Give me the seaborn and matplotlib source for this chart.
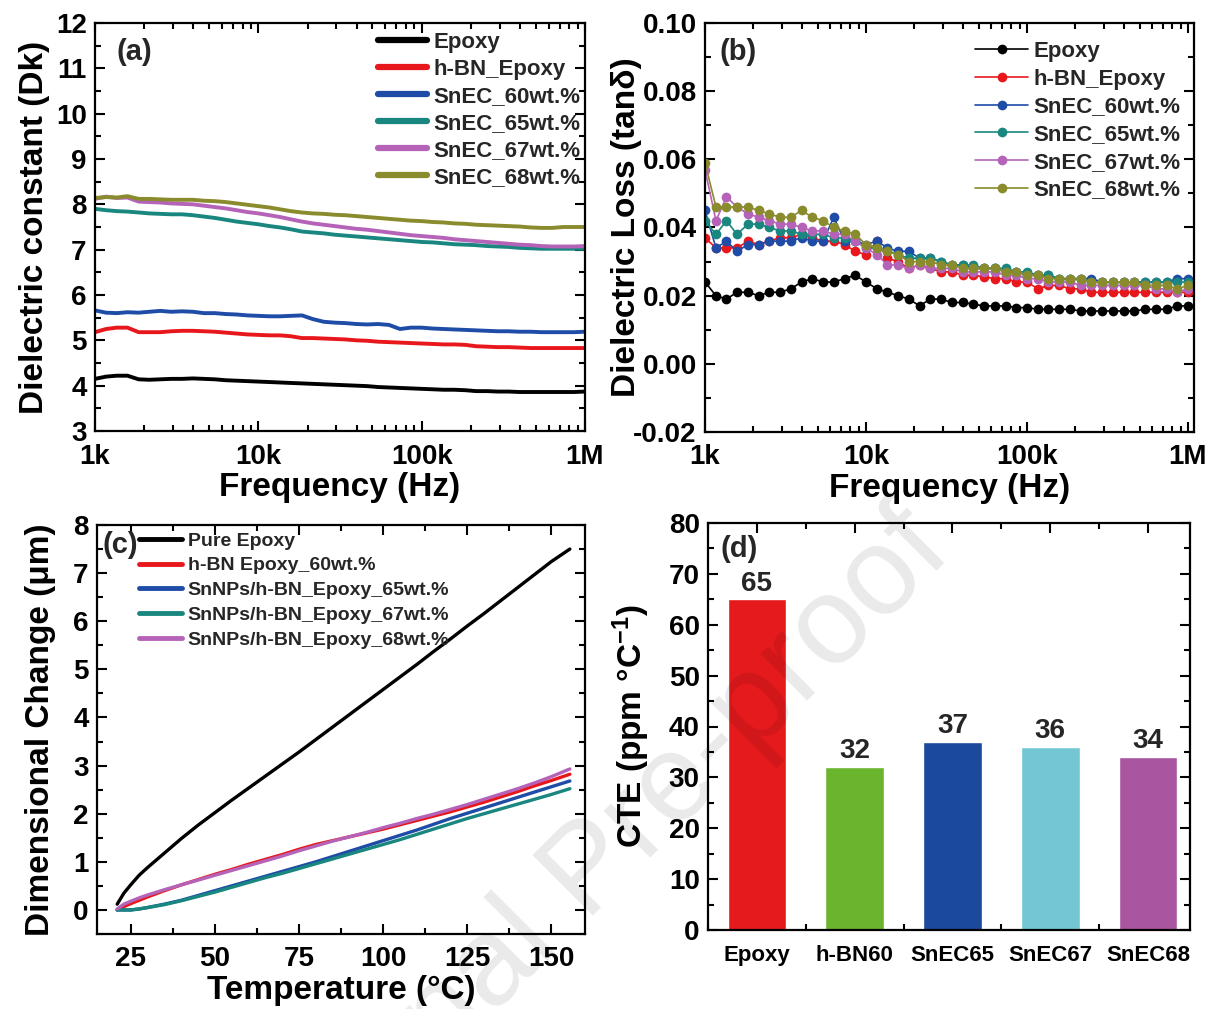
import numpy as np
import pandas as pd
import matplotlib
matplotlib.use("Agg")
import matplotlib.pyplot as plt
from matplotlib.lines import Line2D
from matplotlib.ticker import (FixedLocator, FixedFormatter, MultipleLocator,
                               LogLocator, NullFormatter, FormatStrFormatter)
import seaborn as sns

# ---------------------------------------------------------------- data
# frequency sweep (kHz), shared by the dielectric measurements
FREQ_KHZ = [1.0, 1.17, 1.36, 1.58, 1.85, 2.15, 2.51, 2.93, 3.41, 3.98, 4.64, 5.41,
            6.31, 7.36, 8.58, 10, 11.7, 13.6, 15.8, 18.5, 21.5, 25.1, 29.3, 34.1,
            39.8, 46.4, 54.1, 63.1, 73.6, 85.8, 100, 117, 136, 158, 185, 215, 251,
            293, 341, 398, 464, 541, 631, 736, 858, 1000]

DIEL_SAMPLES = ["Epoxy", "h-BN_Epoxy", "SnEC_60wt.%", "SnEC_65wt.%",
                "SnEC_67wt.%", "SnEC_68wt.%"]

# (a) dielectric constant
DK_EPOXY = [4.15, 4.20, 4.22, 4.22, 4.14, 4.13, 4.14, 4.15, 4.15, 4.16, 4.15, 4.14,
            4.12, 4.11, 4.10, 4.09, 4.08, 4.07, 4.06, 4.05, 4.04, 4.03, 4.02, 4.01,
            4.00, 3.99, 3.97, 3.96, 3.95, 3.94, 3.93, 3.92, 3.91, 3.91, 3.90, 3.88,
            3.88, 3.87, 3.87, 3.86, 3.86, 3.86, 3.86, 3.86, 3.86, 3.87]
DK_HBN = [5.18, 5.25, 5.28, 5.28, 5.18, 5.18, 5.18, 5.20, 5.21, 5.21, 5.20, 5.19,
          5.17, 5.15, 5.13, 5.12, 5.11, 5.11, 5.09, 5.05, 5.05, 5.04, 5.03, 5.02,
          5.00, 4.99, 4.97, 4.96, 4.95, 4.94, 4.93, 4.92, 4.91, 4.91, 4.90, 4.87,
          4.86, 4.85, 4.85, 4.84, 4.83, 4.83, 4.83, 4.83, 4.83, 4.83]
DK_SNEC60 = [5.66, 5.61, 5.60, 5.62, 5.61, 5.63, 5.65, 5.63, 5.64, 5.63, 5.60, 5.60,
             5.58, 5.57, 5.55, 5.54, 5.53, 5.53, 5.54, 5.55, 5.47, 5.41, 5.39, 5.38,
             5.36, 5.35, 5.36, 5.34, 5.25, 5.28, 5.28, 5.26, 5.25, 5.24, 5.23, 5.22,
             5.21, 5.20, 5.20, 5.19, 5.19, 5.18, 5.18, 5.18, 5.18, 5.19]
DK_SNEC65 = [7.90, 7.87, 7.85, 7.84, 7.82, 7.80, 7.79, 7.78, 7.78, 7.76, 7.73, 7.70,
             7.66, 7.62, 7.59, 7.56, 7.52, 7.49, 7.45, 7.40, 7.38, 7.36, 7.33, 7.31,
             7.29, 7.27, 7.25, 7.23, 7.21, 7.19, 7.17, 7.16, 7.14, 7.12, 7.11, 7.10,
             7.08, 7.07, 7.06, 7.04, 7.03, 7.02, 7.02, 7.02, 7.02, 7.02]
DK_SNEC67 = [8.12, 8.17, 8.14, 8.15, 8.06, 8.05, 8.04, 8.02, 8.01, 8.00, 7.97, 7.94,
             7.91, 7.87, 7.83, 7.80, 7.76, 7.72, 7.67, 7.62, 7.58, 7.55, 7.52, 7.49,
             7.46, 7.44, 7.41, 7.38, 7.35, 7.32, 7.30, 7.28, 7.26, 7.23, 7.21, 7.19,
             7.17, 7.15, 7.13, 7.11, 7.10, 7.08, 7.07, 7.07, 7.07, 7.08]
DK_SNEC68 = [8.14, 8.16, 8.15, 8.18, 8.12, 8.12, 8.11, 8.10, 8.10, 8.10, 8.08, 8.07,
             8.05, 8.02, 7.99, 7.96, 7.93, 7.89, 7.85, 7.82, 7.80, 7.79, 7.77, 7.76,
             7.74, 7.72, 7.70, 7.68, 7.66, 7.64, 7.63, 7.61, 7.60, 7.58, 7.57, 7.55,
             7.54, 7.53, 7.52, 7.51, 7.49, 7.48, 7.48, 7.50, 7.50, 7.50]

# (b) dielectric loss tangent
TAN_EPOXY = [0.024, 0.020, 0.019, 0.021, 0.021, 0.020, 0.021, 0.021, 0.022, 0.024,
             0.025, 0.024, 0.024, 0.025, 0.026, 0.024, 0.022, 0.021, 0.020, 0.019,
             0.017, 0.019, 0.019, 0.018, 0.018, 0.0175, 0.017, 0.017, 0.017, 0.0165,
             0.0165, 0.016, 0.016, 0.016, 0.016, 0.0155, 0.0155, 0.0155, 0.0155,
             0.0155, 0.0155, 0.016, 0.016, 0.016, 0.017, 0.017]
TAN_HBN = [0.037, 0.034, 0.034, 0.034, 0.036, 0.035, 0.036, 0.037, 0.037, 0.038,
           0.037, 0.036, 0.036, 0.035, 0.033, 0.032, 0.036, 0.031, 0.030, 0.028,
           0.029, 0.028, 0.027, 0.027, 0.026, 0.026, 0.0255, 0.025, 0.025, 0.024,
           0.024, 0.022, 0.023, 0.023, 0.022, 0.022, 0.021, 0.021, 0.021, 0.021,
           0.021, 0.021, 0.021, 0.021, 0.021, 0.021]
TAN_SNEC60 = [0.045, 0.034, 0.036, 0.033, 0.035, 0.035, 0.036, 0.036, 0.036, 0.037,
              0.036, 0.036, 0.043, 0.036, 0.036, 0.035, 0.036, 0.034, 0.033, 0.033,
              0.031, 0.031, 0.030, 0.029, 0.029, 0.028, 0.028, 0.028, 0.027, 0.027,
              0.026, 0.026, 0.026, 0.025, 0.025, 0.025, 0.025, 0.024, 0.024, 0.024,
              0.024, 0.024, 0.024, 0.024, 0.025, 0.025]
TAN_SNEC65 = [0.042, 0.038, 0.042, 0.038, 0.041, 0.041, 0.040, 0.039, 0.039, 0.038,
              0.038, 0.038, 0.037, 0.037, 0.036, 0.034, 0.034, 0.033, 0.032, 0.031,
              0.031, 0.031, 0.030, 0.029, 0.029, 0.029, 0.028, 0.028, 0.028, 0.027,
              0.027, 0.026, 0.026, 0.025, 0.025, 0.025, 0.024, 0.024, 0.024, 0.024,
              0.024, 0.024, 0.024, 0.024, 0.024, 0.024]
TAN_SNEC67 = [0.057, 0.042, 0.049, 0.046, 0.044, 0.043, 0.042, 0.041, 0.041, 0.040,
              0.039, 0.039, 0.038, 0.038, 0.036, 0.034, 0.032, 0.029, 0.029, 0.028,
              0.029, 0.028, 0.028, 0.028, 0.027, 0.027, 0.027, 0.027, 0.026, 0.026,
              0.025, 0.025, 0.024, 0.024, 0.024, 0.023, 0.023, 0.023, 0.023, 0.023,
              0.023, 0.023, 0.022, 0.022, 0.021, 0.022]
TAN_SNEC68 = [0.059, 0.046, 0.046, 0.046, 0.046, 0.045, 0.044, 0.043, 0.043, 0.045,
              0.043, 0.042, 0.040, 0.039, 0.038, 0.035, 0.034, 0.033, 0.032, 0.030,
              0.030, 0.030, 0.029, 0.029, 0.028, 0.028, 0.028, 0.028, 0.027, 0.027,
              0.026, 0.026, 0.025, 0.025, 0.025, 0.025, 0.024, 0.024, 0.024, 0.024,
              0.024, 0.023, 0.023, 0.023, 0.022, 0.023]

# (c) thermal expansion
TEMP_C = [21, 23, 25, 27.5, 30, 35, 40, 45, 50, 55, 60, 65, 70, 75, 80, 85, 90, 95,
          100, 105, 110, 115, 120, 125, 130, 135, 140, 145, 150, 155.5]
TMA_SAMPLES = ["Pure Epoxy", "h-BN Epoxy_60wt.%", "SnNPs/h-BN_Epoxy_65wt.%",
               "SnNPs/h-BN_Epoxy_67wt.%", "SnNPs/h-BN_Epoxy_68wt.%"]
DL_EPOXY = [0.12, 0.35, 0.52, 0.72, 0.88, 1.18, 1.48, 1.76, 2.02, 2.28, 2.53, 2.78,
            3.03, 3.28, 3.54, 3.80, 4.06, 4.32, 4.58, 4.84, 5.10, 5.37, 5.63, 5.90,
            6.16, 6.43, 6.70, 6.97, 7.24, 7.50]
DL_HBN60 = [0.00, 0.07, 0.13, 0.20, 0.27, 0.40, 0.52, 0.63, 0.74, 0.84, 0.95, 1.05,
            1.15, 1.26, 1.36, 1.44, 1.52, 1.60, 1.68, 1.77, 1.86, 1.95, 2.04, 2.14,
            2.24, 2.35, 2.46, 2.58, 2.69, 2.82]
DL_SNEC65 = [0.00, 0.00, 0.00, 0.02, 0.05, 0.12, 0.20, 0.30, 0.40, 0.50, 0.60, 0.70,
             0.80, 0.90, 1.00, 1.11, 1.22, 1.33, 1.44, 1.55, 1.66, 1.78, 1.90, 2.01,
             2.12, 2.23, 2.34, 2.45, 2.56, 2.68]
DL_SNEC67 = [0.00, 0.00, 0.00, 0.02, 0.05, 0.11, 0.19, 0.28, 0.37, 0.47, 0.57, 0.67,
             0.76, 0.86, 0.96, 1.06, 1.16, 1.26, 1.36, 1.46, 1.57, 1.68, 1.79, 1.90,
             2.00, 2.10, 2.20, 2.30, 2.40, 2.52]
DL_SNEC68 = [0.02, 0.12, 0.18, 0.25, 0.31, 0.42, 0.52, 0.62, 0.72, 0.82, 0.92, 1.02,
             1.12, 1.23, 1.33, 1.43, 1.52, 1.61, 1.71, 1.80, 1.90, 1.99, 2.09, 2.19,
             2.30, 2.41, 2.52, 2.64, 2.77, 2.93]

# (d) coefficient of thermal expansion
CTE_LABELS = ["Epoxy", "h-BN60", "SnEC65", "SnEC67", "SnEC68"]
CTE_VALUES = [65, 32, 37, 36, 34]

# tick labels
FREQ_TICKS = [1e3, 1e4, 1e5, 1e6]
FREQ_TICKLABELS = ["1k", "10k", "100k", "1M"]

# ---------------------------------------------------------------- style
LINE_COLORS = ["#000000", "#E8171C", "#1E4CA6", "#19877F", "#B463B8", "#8A8B2D"]
TMA_COLORS = ["#000000", "#E8171C", "#1E4CA6", "#19877F", "#B463B8"]
BAR_COLORS = ["#E41A1C", "#6AB52D", "#1B4A9C", "#74C6D4", "#A955A0"]

sns.set_theme(style="ticks")
plt.rcParams.update({
    "font.family": ["Liberation Sans", "DejaVu Sans"],
    "font.weight": "bold",
    "axes.labelweight": "bold",
    "axes.linewidth": 1.6,
    "axes.edgecolor": "black",
    "axes.labelcolor": "black",
    "xtick.color": "black",
    "ytick.color": "black",
    "xtick.direction": "in",
    "ytick.direction": "in",
    "xtick.top": True,
    "ytick.right": True,
    "xtick.major.size": 7,
    "ytick.major.size": 7,
    "xtick.minor.size": 4,
    "ytick.minor.size": 4,
    "xtick.major.width": 1.5,
    "ytick.major.width": 1.5,
    "xtick.minor.width": 1.5,
    "ytick.minor.width": 1.5,
    "xtick.labelsize": 20,
    "ytick.labelsize": 20,
    "axes.labelsize": 24,
    "mathtext.default": "regular",
})

W, H = 1217, 1009
fig = plt.figure(figsize=(W / 100, H / 100), dpi=100)


def px_rect(left, right, top, bottom):
    return [left / W, 1 - bottom / H, (right - left) / W, (bottom - top) / H]


ax_a = fig.add_axes(px_rect(95, 585, 23, 431))
ax_b = fig.add_axes(px_rect(705, 1194, 23, 432))
ax_c = fig.add_axes(px_rect(97, 585, 525, 934))
ax_d = fig.add_axes(px_rect(708, 1190, 523, 930))

for ax in (ax_a, ax_b, ax_c, ax_d):
    ax.tick_params(which="both", top=True, right=True, direction="in")
    ax.tick_params(axis="y", pad=6)
    ax.tick_params(axis="x", pad=9)

# ---------------------------------------------------------------- (a)
freq_hz = [f * 1000 for f in FREQ_KHZ]
dk_series = [DK_EPOXY, DK_HBN, DK_SNEC60, DK_SNEC65, DK_SNEC67, DK_SNEC68]
df_a = pd.concat([pd.DataFrame({"freq": freq_hz, "val": v, "sample": s})
                  for s, v in zip(DIEL_SAMPLES, dk_series)], ignore_index=True)
sns.lineplot(data=df_a, x="freq", y="val", hue="sample", hue_order=DIEL_SAMPLES,
             palette=dict(zip(DIEL_SAMPLES, LINE_COLORS)), estimator=None,
             sort=False, linewidth=2.8, legend=False, ax=ax_a)
ax_a.set_xscale("log")
ax_a.set_xlim(1e3, 1e6)
ax_a.set_ylim(3, 12)
ax_a.xaxis.set_major_locator(FixedLocator(FREQ_TICKS))
ax_a.xaxis.set_major_formatter(FixedFormatter(FREQ_TICKLABELS))
ax_a.xaxis.set_minor_locator(LogLocator(base=10, subs=np.arange(2, 10)))
ax_a.xaxis.set_minor_formatter(NullFormatter())
ax_a.yaxis.set_major_locator(MultipleLocator(1))
ax_a.yaxis.set_minor_locator(MultipleLocator(0.5))
ax_a.set_xlabel("Frequency (Hz)", labelpad=2)
ax_a.set_ylabel("Dielectric constant (Dk)", labelpad=4)
handles_a = [Line2D([], [], color=c, lw=4.5) for c in LINE_COLORS]
ax_a.legend(handles_a, DIEL_SAMPLES, loc="upper left", bbox_to_anchor=(0.578, 0.978),
            frameon=False, fontsize=16, handlelength=2.2, handletextpad=0.3,
            labelspacing=0.27, borderpad=0, borderaxespad=0)
ax_a.text(0.043, 0.93, "(a)", transform=ax_a.transAxes, fontsize=21,
          fontweight="bold", va="center", ha="left")

# ---------------------------------------------------------------- (b)
tan_series = [TAN_EPOXY, TAN_HBN, TAN_SNEC60, TAN_SNEC65, TAN_SNEC67, TAN_SNEC68]
df_b = pd.concat([pd.DataFrame({"freq": freq_hz, "val": v, "sample": s})
                  for s, v in zip(DIEL_SAMPLES, tan_series)], ignore_index=True)
sns.lineplot(data=df_b, x="freq", y="val", hue="sample", hue_order=DIEL_SAMPLES,
             palette=dict(zip(DIEL_SAMPLES, LINE_COLORS)), estimator=None,
             sort=False, linewidth=1.2, marker="o", markersize=7,
             markeredgewidth=0, legend=False, ax=ax_b)
ax_b.set_xscale("log")
ax_b.set_xlim(1e3, 1.09e6)
ax_b.set_ylim(-0.02, 0.10)
ax_b.xaxis.set_major_locator(FixedLocator(FREQ_TICKS))
ax_b.xaxis.set_major_formatter(FixedFormatter(FREQ_TICKLABELS))
ax_b.xaxis.set_minor_locator(LogLocator(base=10, subs=np.arange(2, 10)))
ax_b.xaxis.set_minor_formatter(NullFormatter())
ax_b.yaxis.set_major_locator(MultipleLocator(0.02))
ax_b.yaxis.set_minor_locator(MultipleLocator(0.01))
ax_b.yaxis.set_major_formatter(FormatStrFormatter("%.2f"))
ax_b.set_xlabel("Frequency (Hz)", labelpad=2)
ax_b.set_ylabel("Dielectric Loss (tan\u03b4)", labelpad=-6)
handles_b = [Line2D([], [], color=c, lw=1.2, marker="o", markersize=7,
                    markeredgewidth=0) for c in LINE_COLORS]
ax_b.legend(handles_b, DIEL_SAMPLES, loc="upper left", bbox_to_anchor=(0.552, 0.956),
            frameon=False, fontsize=16, handlelength=2.4, handletextpad=0.25,
            labelspacing=0.3, borderpad=0, borderaxespad=0, numpoints=1)
ax_b.text(0.03, 0.93, "(b)", transform=ax_b.transAxes, fontsize=21,
          fontweight="bold", va="center", ha="left")

# ---------------------------------------------------------------- (c)
dl_series = [DL_EPOXY, DL_HBN60, DL_SNEC65, DL_SNEC67, DL_SNEC68]
df_c = pd.concat([pd.DataFrame({"temp": TEMP_C, "val": v, "sample": s})
                  for s, v in zip(TMA_SAMPLES, dl_series)], ignore_index=True)
sns.lineplot(data=df_c, x="temp", y="val", hue="sample", hue_order=TMA_SAMPLES,
             palette=dict(zip(TMA_SAMPLES, TMA_COLORS)), estimator=None,
             sort=False, linewidth=2.4, legend=False, ax=ax_c)
ax_c.set_xlim(15, 160)
ax_c.set_ylim(-0.5, 8)
ax_c.xaxis.set_major_locator(MultipleLocator(25))
ax_c.xaxis.set_minor_locator(MultipleLocator(12.5))
ax_c.yaxis.set_major_locator(MultipleLocator(1))
ax_c.yaxis.set_minor_locator(MultipleLocator(0.5))
ax_c.set_xlabel("Temperature (\u00b0C)", labelpad=2)
ax_c.set_ylabel("Dimensional Change (\u03bcm)", labelpad=12)
handles_c = [Line2D([], [], color=c, lw=3.5) for c in TMA_COLORS]
ax_c.legend(handles_c, TMA_SAMPLES, loc="upper left", bbox_to_anchor=(0.086, 0.983),
            frameon=False, fontsize=14, handlelength=2.2, handletextpad=0.3,
            labelspacing=0.37, borderpad=0, borderaxespad=0)
ax_c.text(0.012, 0.95, "(c)", transform=ax_c.transAxes, fontsize=21,
          fontweight="bold", va="center", ha="left")

# ---------------------------------------------------------------- (d)
sns.barplot(x=CTE_LABELS, y=CTE_VALUES, hue=CTE_LABELS,
            palette=dict(zip(CTE_LABELS, BAR_COLORS)), saturation=1,
            width=0.6, legend=False, ax=ax_d)
for cont in ax_d.containers:
    ax_d.bar_label(cont, fmt="%g", padding=2, fontsize=20, fontweight="bold")
ax_d.set_xlim(-0.5, 4.43)
ax_d.set_ylim(0, 80)
ax_d.xaxis.set_minor_locator(MultipleLocator(0.5))
ax_d.yaxis.set_major_locator(MultipleLocator(10))
ax_d.yaxis.set_minor_locator(MultipleLocator(5))
ax_d.tick_params(axis="x", labelsize=16, pad=11)
ax_d.set_xlabel("")
ax_d.set_ylabel("CTE (ppm \u00b0C$^{-1}$)", labelpad=12)
ax_d.text(0.025, 0.935, "(d)", transform=ax_d.transAxes, fontsize=21,
          fontweight="bold", va="center", ha="left")

# ---------------------------------------------------------------- watermark
fig.text(0.485, 0.135, "Journal Pre-proof", fontsize=90, rotation=45,
         rotation_mode="anchor", ha="center", va="center", color="black",
         alpha=0.085, fontweight="normal", zorder=10)

fig.savefig("out.png", dpi=100)
